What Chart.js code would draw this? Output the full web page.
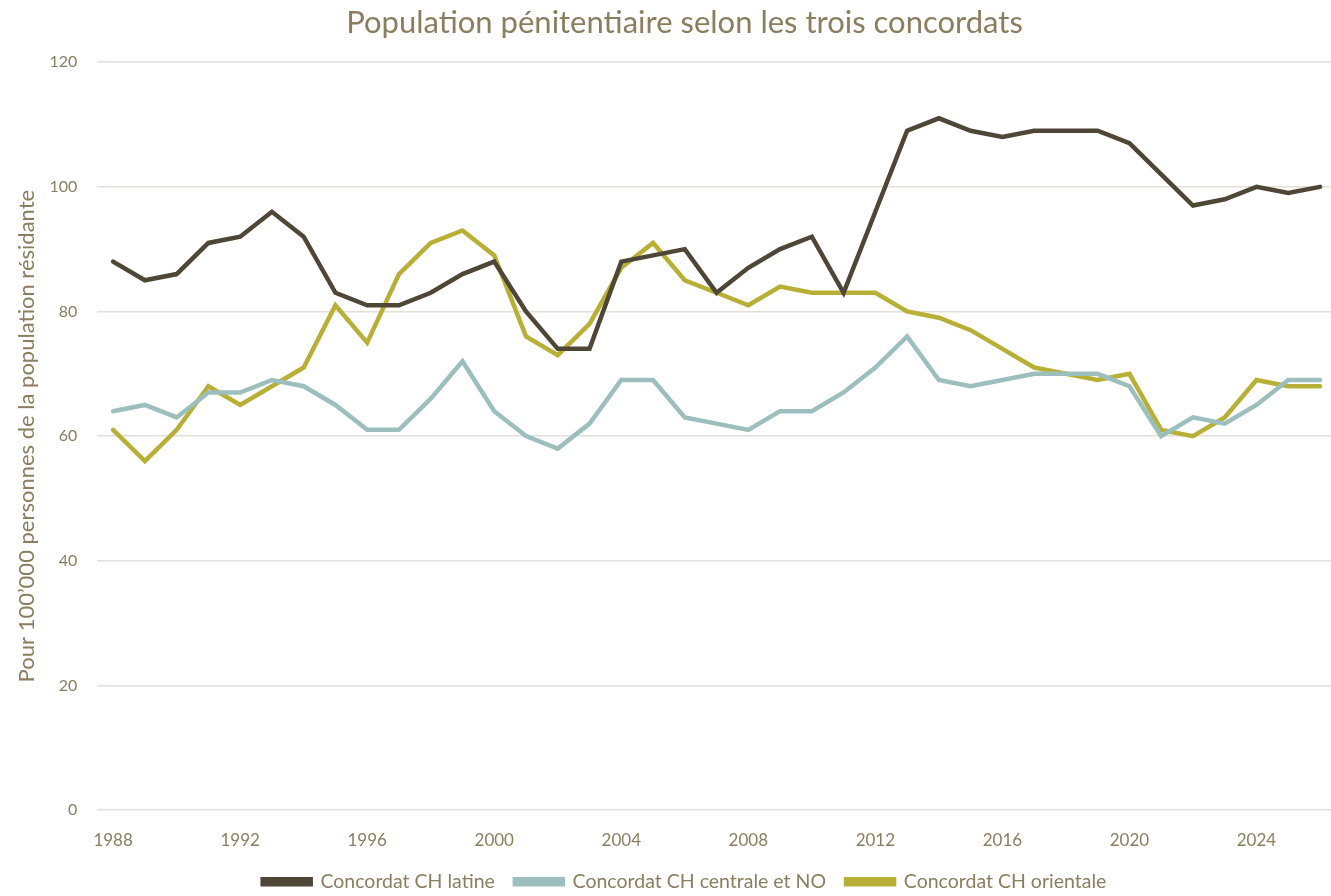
<!DOCTYPE html>
<html>
<head>
<meta charset="utf-8">
<script src="https://cdn.jsdelivr.net/npm/chart.js@4/dist/chart.umd.min.js"></script>
<style>
html,body{margin:0;padding:0;background:#fff;overflow:hidden;}
#wrap{width:1331px;height:896px;position:relative;overflow:hidden;}
#c{position:absolute;left:0;top:0;}
</style>
</head>
<body>
<div id="wrap"><canvas id="c" width="1340" height="896"></canvas></div>
<script>
const years = [];
for (let y = 1988; y <= 2026; y++) years.push(String(y));

const latine = [88,85,86,91,92,96,92,83,81,81,83,86,88,80,74,74,88,89,90,83,87,90,92,83,96,109,111,109,108,109,109,109,107,102,97,98,100,99,100];
const centrale = [64,65,63,67,67,69,68,65,61,61,66,72,64,60,58,62,69,69,63,62,61,64,64,67,71,76,69,68,69,70,70,70,68,60,63,62,65,69,69];
const orientale = [61,56,61,68,65,68,71,81,75,86,91,93,89,76,73,78,87,91,85,83,81,84,83,83,83,80,79,77,74,71,70,69,70,61,60,63,69,68,68];

const seriesNames = ["Concordat CH latine","Concordat CH centrale et NO","Concordat CH orientale"];
const yTicks = [0,20,40,60,80,100,120];

const textColor = "#8a7e5f";
const FONT = "Lato, 'Open Sans', sans-serif";
const colors = ["#4e4636","#9cbfbe","#b8b036"];

function ds(label, data, color){
  return {label, data, borderColor: color, backgroundColor: color, borderWidth: 4.5,
          pointRadius: 0, tension: 0, fill: false, borderCapStyle: 'round', borderJoinStyle: 'miter'};
}

new Chart(document.getElementById('c'), {
  type: 'line',
  data: {
    labels: years,
    datasets: [
      ds(seriesNames[0], latine, colors[0]),
      ds(seriesNames[1], centrale, colors[1]),
      ds(seriesNames[2], orientale, colors[2])
    ]
  },
  options: {
    responsive: false,
    animation: false,
    layout: {padding: {left: 29, right: 0, top: 0, bottom: -5.5}},
    plugins: {
      title: {
        display: true,
        text: "Population pénitentiaire selon les trois concordats",
        color: textColor,
        font: {family: FONT, size: 31, weight: 'normal'},
        padding: {top: 4, bottom: 21}
      },
      legend: {
        position: 'bottom',
        labels: {
          color: textColor,
          font: {family: FONT, size: 19.5},
          boxWidth: 48,
          boxHeight: 5,
          padding: 20
        }
      },
      tooltip: {enabled: false}
    },
    scales: {
      x: {
        type: 'category',
        offset: true,
        grid: {display: false, drawTicks: false},
        border: {display: false},
        afterFit: function(s){ s.height = 42; },
        ticks: {
          color: textColor,
          font: {family: FONT, size: 17},
          autoSkip: false,
          maxRotation: 0,
          padding: 20,
          callback: function(v, i){ return i % 4 === 0 ? years[i] : ''; }
        }
      },
      y: {
        min: 0, max: 120,
        afterBuildTicks: function(s){ s.ticks = yTicks.map(v => ({value: v})); },
        grid: {color: "#e3dfd9", lineWidth: 1.5, drawTicks: false},
        border: {display: false},
        ticks: {color: textColor, font: {family: FONT, size: 16}, padding: 20},
        title: {
          display: true,
          text: "Pour 100’000 personnes de la population résidante",
          color: textColor,
          font: {family: FONT, size: 22},
          padding: {top: -15, bottom: -11}
        }
      }
    }
  }
});
</script>
</body>
</html>
